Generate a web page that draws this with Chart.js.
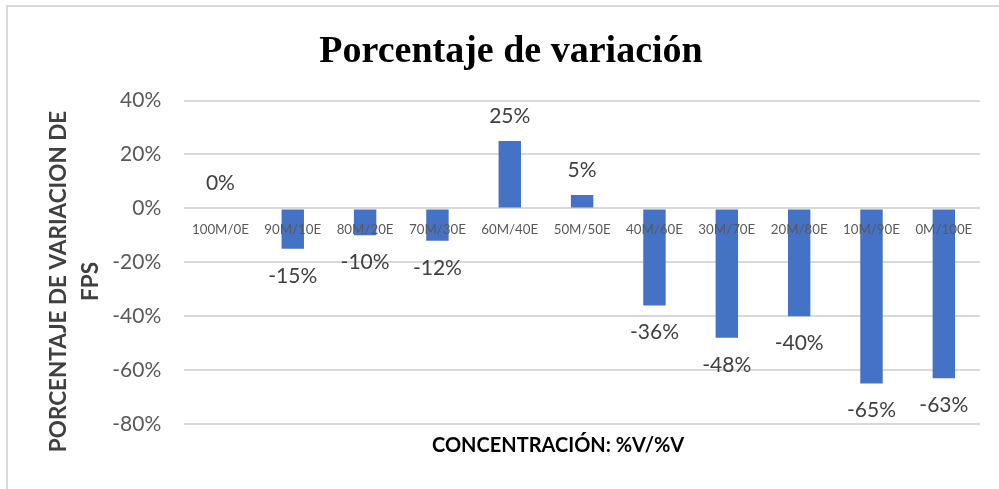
<!DOCTYPE html>
<html>
<head>
<meta charset="utf-8">
<script src="https://cdn.jsdelivr.net/npm/chart.js@4"></script>
<style>
  body { margin: 0; background: #fff; }
  #frame { position: absolute; left: 6px; top: 5px; width: 1000px; height: 500px; border-left: 2px solid #d9d9d9; border-top: 2px solid #d9d9d9; }
  #wrap { position: absolute; left: 0; top: 0; width: 999px; height: 489px; }
</style>
</head>
<body>
<div id="frame"></div>
<div id="wrap"><canvas id="barChart" width="999" height="489"></canvas></div>
<script>
// categories and values
const categories = ['100M/0E', '90M/10E', '80M/20E', '70M/30E', '60M/40E', '50M/50E',
                    '40M/60E', '30M/70E', '20M/80E', '10M/90E', '0M/100E'];
const variation = [0, -15, -10, -12, 25, 5, -36, -48, -40, -65, -63];
const yTicks = [-80, -60, -40, -20, 0, 20, 40];

// value labels outside the bar end, plus the x axis caption under the plot
const valueLabels = {
    id: 'valueLabels',
    afterDraw(chart) {
        const ctx = chart.ctx;
        const meta = chart.getDatasetMeta(0);
        const area = chart.chartArea;
        ctx.save();
        ctx.font = '21px Lato, sans-serif';
        ctx.fillStyle = '#404040';
        ctx.textAlign = 'center';
        ctx.textBaseline = 'middle';
        meta.data.forEach(function(bar, i) {
            const v = variation[i];
            const y = v >= 0 ? bar.y - 25 : bar.y + 27;
            ctx.fillText(v + '%', bar.x, y);
        });
        ctx.font = 'bold 20px Lato, sans-serif';
        ctx.fillStyle = '#000';
        ctx.fillText('CONCENTRACIÓN: %V/%V', (area.left + area.right) / 2 - 24, area.bottom + 22);
        ctx.restore();
    }
};

function initBarChart() {
    const ctx = document.getElementById('barChart').getContext('2d');

    new Chart(ctx, {
        type: 'bar',
        data: {
            labels: categories,
            datasets: [{
                data: variation,
                backgroundColor: '#4472C4',
                categoryPercentage: 1,
                barPercentage: 0.31
            }]
        },
        options: {
            responsive: false,
            animation: false,
            layout: {
                padding: { left: 42, right: 19, top: 12, bottom: 65 }
            },
            scales: {
                x: {
                    position: { y: 0 },
                    grid: { display: false },
                    border: { display: false },
                    ticks: {
                        z: 1,
                        autoSkip: false,
                        maxRotation: 0,
                        padding: 5,
                        color: '#595959',
                        font: { size: 13.3, family: 'Lato, sans-serif' }
                    }
                },
                y: {
                    min: -80,
                    max: 40,
                    afterBuildTicks: function(axis) {
                        axis.ticks = yTicks.map(function(v) { return { value: v }; });
                    },
                    border: { display: false },
                    grid: { color: '#d9d9d9', lineWidth: 2, drawTicks: false },
                    ticks: {
                        padding: 23,
                        color: '#595959',
                        font: { size: 21, family: 'Lato, sans-serif' },
                        callback: function(v) { return v + '%'; }
                    },
                    title: {
                        display: true,
                        // trailing spaces nudge the rotated lines a bit lower, as in the reference
                        text: ['PORCENTAJE DE VARIACION DE       ', 'FPS       '],
                        color: '#404040',
                        padding: { top: 0, bottom: -18 },
                        font: { size: 22.5, weight: 'bold', family: 'Lato, sans-serif', lineHeight: 1.45 }
                    }
                }
            },
            plugins: {
                legend: { display: false },
                tooltip: { enabled: false },
                title: {
                    display: true,
                    text: 'Porcentaje de variación',
                    color: '#000',
                    padding: { top: 17, bottom: 26 },
                    font: { size: 38, weight: 'bold', family: "'Liberation Serif', serif" }
                }
            }
        },
        plugins: [valueLabels]
    });
}

initBarChart();
</script>
</body>
</html>
